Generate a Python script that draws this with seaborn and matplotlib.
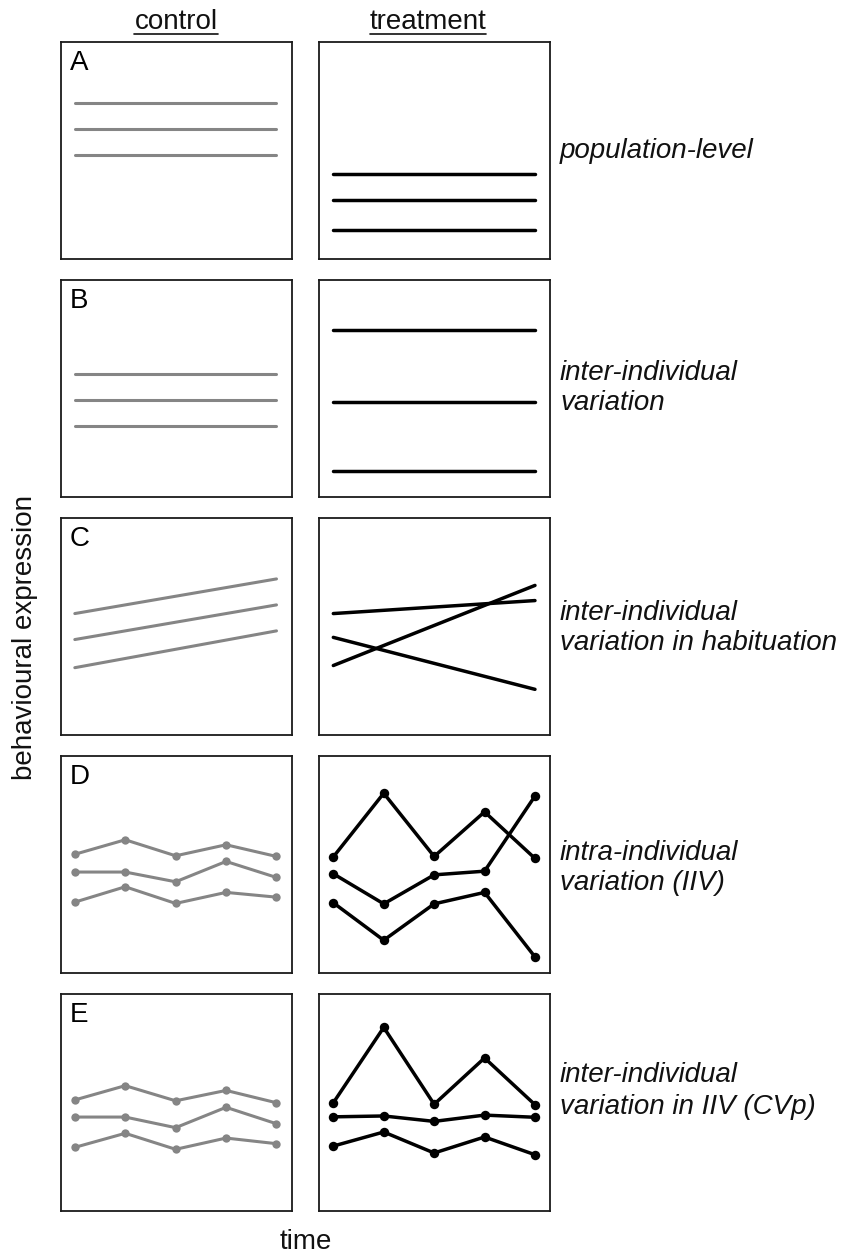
import numpy as np
import pandas as pd
import matplotlib
matplotlib.use("Agg")
import matplotlib.pyplot as plt
from matplotlib.lines import Line2D
import seaborn as sns

sns.set_style("white")
plt.rcParams["font.family"] = ["Liberation Sans", "DejaVu Sans"]

# time points (straight-line panels only need the two ends)
time_ends = [1, 5]
time_pts = [1, 2, 3, 4, 5]

# values, scaled 0..1 inside each panel
a_control = [[0.72, 0.72], [0.60, 0.60], [0.48, 0.48]]
a_treatment = [[0.39, 0.39], [0.27, 0.27], [0.13, 0.13]]
b_control = [[0.57, 0.57], [0.45, 0.45], [0.33, 0.33]]
b_treatment = [[0.77, 0.77], [0.44, 0.44], [0.12, 0.12]]
c_control = [[0.56, 0.72], [0.44, 0.60], [0.31, 0.48]]
c_treatment = [[0.56, 0.62], [0.32, 0.69], [0.45, 0.21]]
d_control = [[0.546, 0.613, 0.539, 0.590, 0.536],
             [0.464, 0.464, 0.419, 0.513, 0.439],
             [0.325, 0.396, 0.319, 0.370, 0.348]]
d_treatment = [[0.534, 0.828, 0.536, 0.742, 0.527],
               [0.456, 0.317, 0.451, 0.468, 0.815],
               [0.322, 0.149, 0.317, 0.370, 0.072]]
e_control = [[0.512, 0.578, 0.508, 0.556, 0.499],
             [0.433, 0.433, 0.384, 0.478, 0.402],
             [0.293, 0.358, 0.284, 0.336, 0.310]]
e_treatment = [[0.499, 0.847, 0.492, 0.706, 0.490],
               [0.434, 0.438, 0.413, 0.442, 0.432],
               [0.299, 0.364, 0.267, 0.341, 0.259]]

panel_letters = ["A", "B", "C", "D", "E"]
row_labels = ["population-level",
              "inter-individual\nvariation",
              "inter-individual\nvariation in habituation",
              "intra-individual\nvariation (IIV)",
              "inter-individual\nvariation in IIV (CVp)"]
column_titles = ["control", "treatment"]

rows = [
    (a_control, a_treatment, time_ends, False),
    (b_control, b_treatment, time_ends, False),
    (c_control, c_treatment, time_ends, False),
    (d_control, d_treatment, time_pts, True),
    (e_control, e_treatment, time_pts, True),
]

W, H = 846, 1254
fig = plt.figure(figsize=(W / 100, H / 100), dpi=100)

col_x = [60.5, 319]
row_top = [42, 280.5, 518.3, 756, 994.3]
ax_w, ax_h = 231, 216.5
label_y = [151, 388, 628, 868, 1091]

grey = "#858585"
black = "#000000"
text_col = "#111111"


def to_frame(lines, times):
    recs = []
    for i, vals in enumerate(lines):
        for t, v in zip(times, vals):
            recs.append({"id": i, "time": t, "value": v})
    return pd.DataFrame(recs)


for r, (ctrl, trt, times, dots) in enumerate(rows):
    for c, (lines, color, lw, ms) in enumerate([(ctrl, grey, 2.2, 6), (trt, black, 2.5, 6.8)]):
        ax = fig.add_axes([col_x[c] / W, 1 - (row_top[r] + ax_h) / H, ax_w / W, ax_h / H])
        df = to_frame(lines, times)
        kw = dict(marker="o", markersize=ms, markeredgewidth=0) if dots else {}
        sns.lineplot(data=df, x="time", y="value", hue="id", units="id", estimator=None,
                     palette=[color] * len(lines), legend=False, sort=False,
                     linewidth=lw, solid_capstyle="round", ax=ax, **kw)
        ax.set_xlim(0.716, 5.298)
        ax.set_ylim(0, 1)
        ax.set_xticks([])
        ax.set_yticks([])
        ax.set_xlabel("")
        ax.set_ylabel("")
        for s in ax.spines.values():
            s.set_visible(True)
            s.set_color("#1a1a1a")
            s.set_linewidth(1.3)
        if c == 0:
            ax.text(0.04, 0.905, panel_letters[r], transform=ax.transAxes,
                    ha="left", va="center", fontsize=20, color="black")
    fig.text(560 / W, 1 - label_y[r] / H, row_labels[r], ha="left", va="center",
             fontsize=20, style="italic", color=text_col, linespacing=1.25)

# column titles, underlined
titles = []
for x, t in zip([176, 428], column_titles):
    titles.append(fig.text(x / W, 1 - 22 / H, t, ha="center", va="center",
                           fontsize=20, color=text_col))
fig.canvas.draw()
renderer = fig.canvas.get_renderer()
for t in titles:
    bb = t.get_window_extent(renderer)
    yline = 1 - 33.5 / H
    fig.add_artist(Line2D([bb.x0 / W, bb.x1 / W], [yline, yline],
                          transform=fig.transFigure, color=text_col, linewidth=1.2))

fig.text(306 / W, 1 - 1242 / H, "time", ha="center", va="center", fontsize=20,
         color=text_col)
fig.text(25 / W, 1 - 637 / H, "behavioural expression", ha="center", va="center",
         rotation=90, fontsize=20, color=text_col)

fig.savefig("out.png", dpi=100)
plt.close(fig)
